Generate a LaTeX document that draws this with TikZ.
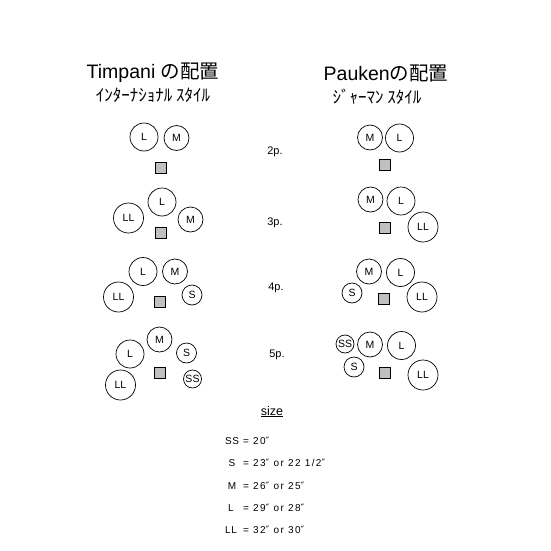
\documentclass[tikz,border=0pt]{standalone}
\usepackage{fontspec}
\setmainfont{Liberation Sans}
\newfontfamily\jpfont{Noto Sans CJK JP}
\newfontfamily\symfont{DejaVu Sans}
\newfontfamily\legendfont[LetterSpace=14]{Liberation Sans}
\newfontfamily\keyfont[LetterSpace=5]{Liberation Sans}
\usepackage{tikz}
\definecolor{playergray}{HTML}{C0C0C0}

\tikzstyle{drum} = [
  circle, draw=black, line width=0.7pt, inner sep=0pt,
  font=\fontsize{10.5}{10.5}\selectfont
]
\tikzstyle{drumss} = [drum, minimum size=18pt]
\tikzstyle{drums}  = [drum, minimum size=20pt]
\tikzstyle{drumm}  = [drum, minimum size=25pt]
\tikzstyle{druml}  = [drum, minimum size=28pt]
\tikzstyle{drumll} = [drum, minimum size=30pt]
\tikzstyle{player} = [
  rectangle, draw=black, line width=0.6pt,
  fill=playergray, minimum size=11pt, inner sep=0pt
]
\tikzstyle{title}    = [anchor=base, font=\fontsize{19.5}{21}\selectfont]
\tikzstyle{subtitle} = [anchor=base, font=\jpfont\fontsize{17}{18}\selectfont]
\tikzstyle{rowlabel} = [font=\fontsize{11}{11}\selectfont]
\tikzstyle{sizekey}  = [anchor=base, inner sep=0pt, font=\keyfont\fontsize{10}{10}\selectfont]
\tikzstyle{sizeval}  = [anchor=base west, inner sep=0pt, font=\legendfont\fontsize{10}{10}\selectfont]

\newcommand{\inch}{{\symfont\char"2033}}

\begin{document}
\begin{tikzpicture}[x=1pt, y=-1pt]

  \useasboundingbox[fill=white] (0,0) rectangle (550,551);

  % ── Titles ────────────────────────────────────────────
  \node[title] (timptitle) at (153,78) {Timpani {\jpfont の配置}};
  \node[subtitle] (intlstyle) at (153,101) {\jpfont ｲﾝﾀｰﾅｼｮﾅﾙ ｽﾀｲﾙ};
  \node[title] (paukentitle) at (386,80) {Pauken{\jpfont の配置}};
  \node[subtitle] (germstyle) at (377,103) {\jpfont ｼﾞｬｰﾏﾝ ｽﾀｲﾙ};

  % ── Row labels ────────────────────────────────────────
  \node[rowlabel] (row2) at (275,152) {2p.};
  \node[rowlabel] (row3) at (275,223) {3p.};
  \node[rowlabel] (row4) at (276,288) {4p.};
  \node[rowlabel] (row5) at (277,355) {5p.};

  % ── International style ───────────────────────────────
  \node[druml]  (il2)  at (144,137) {L};
  \node[drumm]  (im2)  at (176.5,138) {M};
  \node[player] (ip2)  at (161,167.5) {};

  \node[drumll] (ill3) at (128.5,218) {LL};
  \node[druml]  (il3)  at (162,202) {L};
  \node[drumm]  (im3)  at (190.5,219.5) {M};
  \node[player] (ip3)  at (161,232.5) {};

  \node[drumll] (ill4) at (118.5,297) {LL};
  \node[druml]  (il4)  at (143,271.5) {L};
  \node[drumm]  (im4)  at (175,271.5) {M};
  \node[drums]  (is4)  at (192,295) {S};
  \node[player] (ip4)  at (160,302) {};

  \node[drumll] (ill5) at (120.5,385) {LL};
  \node[druml]  (il5)  at (130,354) {L};
  \node[drumm]  (im5)  at (159.5,339.5) {M};
  \node[drums]  (is5)  at (186.5,353) {S};
  \node[drumss] (iss5) at (192.5,379) {SS};
  \node[player] (ip5)  at (160,372.5) {};

  % ── German style ──────────────────────────────────────
  \node[drumm]  (gm2)  at (370,137.5) {M};
  \node[druml]  (gl2)  at (399.5,138) {L};
  \node[player] (gp2)  at (384.5,164.5) {};

  \node[drumm]  (gm3)  at (370.5,199.5) {M};
  \node[druml]  (gl3)  at (401,201) {L};
  \node[drumll] (gll3) at (423,227) {LL};
  \node[player] (gp3)  at (385,227.5) {};

  \node[drums]  (gs4)  at (352,293) {S};
  \node[drumm]  (gm4)  at (369,271.5) {M};
  \node[druml]  (gl4)  at (400.5,272.5) {L};
  \node[drumll] (gll4) at (422,297) {LL};
  \node[player] (gp4)  at (384,298.5) {};

  \node[drumss] (gss5) at (345,344) {SS};
  \node[drums]  (gs5)  at (354,367) {S};
  \node[drumm]  (gm5)  at (370,344.5) {M};
  \node[druml]  (gl5)  at (401.5,345.5) {L};
  \node[drumll] (gll5) at (423,375) {LL};
  \node[player] (gp5)  at (385,372.5) {};

  % ── Size legend ───────────────────────────────────────
  \node[font=\fontsize{12.5}{12.5}\selectfont, anchor=base] (sizehead) at (272,415) {\underline{size}};

  \node[sizekey] (keyss) at (232,444) {SS};
  \node[sizekey] (keys)  at (232,466) {S};
  \node[sizekey] (keym)  at (232,489) {M};
  \node[sizekey] (keyl)  at (231,511) {L};
  \node[sizekey] (keyll) at (231,533) {LL};

  \node[sizeval] (valss) at (243,444) {= 20\inch};
  \node[sizeval] (vals)  at (243,466) {= 23\inch{} or 22 1/2\inch};
  \node[sizeval] (valm)  at (243,489) {= 26\inch{} or 25\inch};
  \node[sizeval] (vall)  at (243,511) {= 29\inch{} or 28\inch};
  \node[sizeval] (valll) at (243,533) {= 32\inch{} or 30\inch};

\end{tikzpicture}
\end{document}
